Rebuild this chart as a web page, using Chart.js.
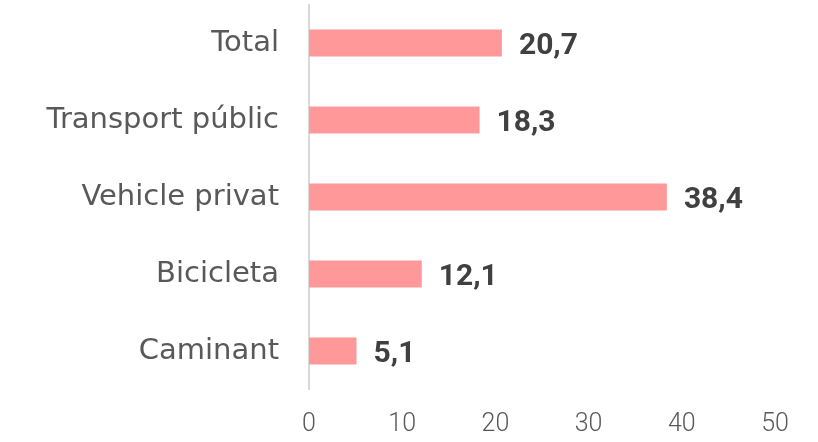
<!DOCTYPE html>
<html lang="ca">
<head>
  <meta charset="UTF-8">
  <title>Temps per mode de transport</title>
  <script src="https://cdn.jsdelivr.net/npm/chart.js"></script>
  <style>
    html, body { margin: 0; padding: 0; background: #ffffff; }
    #wrap { width: 818px; height: 442px; }
  </style>
</head>
<body>
<div id="wrap"><canvas id="chart"></canvas></div>
<script>
  // Dades
  const categories = ['Total', 'Transport públic', 'Vehicle privat', 'Bicicleta', 'Caminant'];
  const values = [20.7, 18.3, 38.4, 12.1, 5.1];
  const xTicks = [0, 10, 20, 30, 40, 50];

  const labelFont = "'DejaVu Sans', sans-serif";
  const numberFont = "'Roboto', 'Noto Sans', sans-serif";

  // Etiquetes de valor al final de cada barra
  const valueLabels = {
    id: 'valueLabels',
    afterDatasetsDraw(chart) {
      const ctx = chart.ctx;
      const meta = chart.getDatasetMeta(0);
      ctx.save();
      ctx.font = "bold 30px " + numberFont;
      ctx.fillStyle = '#404040';
      ctx.textAlign = 'left';
      ctx.textBaseline = 'middle';
      meta.data.forEach((bar, i) => {
        ctx.fillText(values[i].toFixed(1).replace('.', ','), bar.x + 17, bar.y + 3);
      });
      ctx.restore();
    }
  };

  const ctx = document.getElementById('chart').getContext('2d');
  new Chart(ctx, {
    type: 'bar',
    data: {
      labels: categories,
      datasets: [{
        data: values,
        backgroundColor: '#FF9999',
        borderWidth: 0,
        barPercentage: 0.7,
        categoryPercentage: 0.5
      }]
    },
    options: {
      indexAxis: 'y',
      responsive: true,
      maintainAspectRatio: false,
      animation: false,
      layout: { padding: { top: 4.5, right: 43, left: 0, bottom: 0 } },
      plugins: {
        legend: { display: false },
        tooltip: { enabled: false }
      },
      scales: {
        x: {
          min: 0,
          max: 50,
          afterBuildTicks(scale) { scale.ticks = xTicks.map(v => ({ value: v })); },
          afterFit(scale) { scale.height = 52.5; },
          grid: { display: false, drawTicks: false },
          border: { display: false },
          ticks: {
            color: '#595959',
            padding: 20,
            font: { family: numberFont, size: 25, weight: '300' }
          }
        },
        y: {
          afterFit(scale) {
            scale.width = 309;
            scale.paddingTop = 0;
            scale.paddingBottom = 0;
          },
          grid: { display: false, drawTicks: false },
          border: { display: true, color: '#D9D9D9', width: 2 },
          ticks: {
            color: '#595959',
            padding: 30,
            font: { family: labelFont, size: 29 }
          }
        }
      }
    },
    plugins: [valueLabels]
  });
</script>
</body>
</html>
